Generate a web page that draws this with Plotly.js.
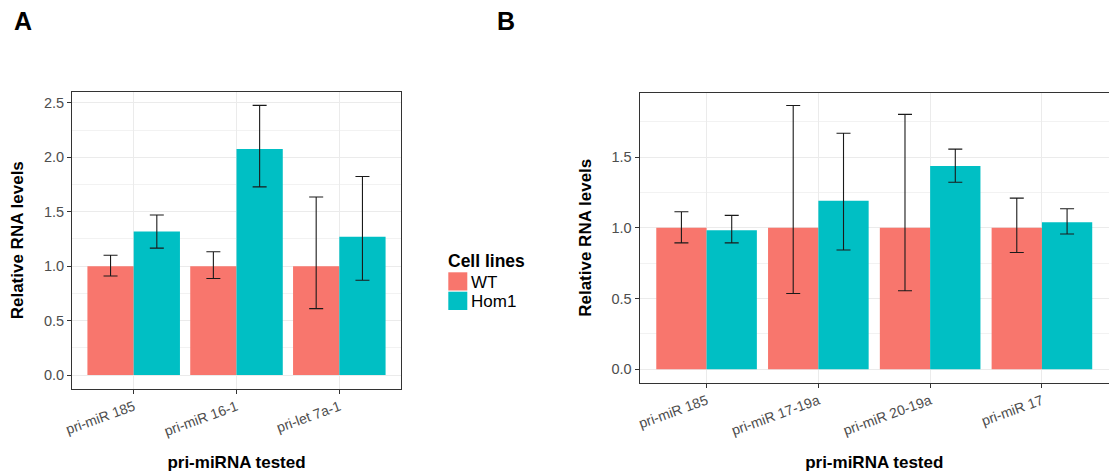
<!DOCTYPE html>
<html>
<head>
<meta charset="utf-8">
<script src="https://cdn.plot.ly/plotly-3.0.1.min.js"></script>
<style>html,body{margin:0;padding:0;background:#fff;}#chart{width:1109px;height:475px;}</style>
</head>
<body>
<div id="chart"></div>
<script>
// ---- Data ----
var categoriesA = ['pri-miR 185', 'pri-miR 16-1', 'pri-let 7a-1'];
var wtA      = [1.00, 1.00, 1.00];
var wtA_hi   = [1.100, 1.132, 1.635];
var wtA_lo   = [0.909, 0.887, 0.610];
var homA     = [1.318, 2.077, 1.270];
var homA_hi  = [1.470, 2.477, 1.824];
var homA_lo  = [1.166, 1.728, 0.871];

var categoriesB = ['pri-miR 185', 'pri-miR 17-19a', 'pri-miR 20-19a', 'pri-miR 17'];
var wtB      = [1.00, 1.00, 1.00, 1.00];
var wtB_hi   = [1.114, 1.865, 1.802, 1.210];
var wtB_lo   = [0.894, 0.536, 0.555, 0.826];
var homB     = [0.983, 1.191, 1.437, 1.039];
var homB_hi  = [1.088, 1.669, 1.556, 1.135];
var homB_lo  = [0.894, 0.843, 1.322, 0.957];

var seriesNames = ['WT', 'Hom1'];
var seriesColors = ['#F8766D', '#00BFC4'];
var legendTitle = 'Cell lines';
var xTitle = 'pri-miRNA tested';
var yTitle = 'Relative RNA levels';

// ---- helpers ----
function diff(a, b) { return a.map(function (v, i) { return v - b[i]; }); }
var FONT = 'Liberation Sans, Arial, sans-serif';

function barTrace(name, color, x, y, hi, lo, xa, ya) {
  return {
    type: 'bar', name: name, x: x, y: y, xaxis: xa, yaxis: ya,
    marker: {color: color, line: {width: 0}},
    showlegend: false,
    error_y: {type: 'data', symmetric: false, array: diff(hi, y), arrayminus: diff(y, lo),
              color: '#1a1a1a', thickness: 1.1, width: 7},
    hoverinfo: 'x+y'
  };
}

var data = [
  barTrace(seriesNames[0], seriesColors[0], categoriesA, wtA, wtA_hi, wtA_lo, 'x', 'y'),
  barTrace(seriesNames[1], seriesColors[1], categoriesA, homA, homA_hi, homA_lo, 'x', 'y'),
  barTrace(seriesNames[0], seriesColors[0], categoriesB, wtB, wtB_hi, wtB_lo, 'x2', 'y2'),
  barTrace(seriesNames[1], seriesColors[1], categoriesB, homB, homB_hi, homB_lo, 'x2', 'y2')
];

var W = 1109, H = 475;
function px(x) { return x / W; }
function py(y) { return 1 - y / H; }

function xAxis(domain, range, anchor) {
  return {
    type: 'category', domain: domain, range: range, anchor: anchor,
    showline: true, mirror: true, linecolor: '#333333', linewidth: 1,
    ticks: 'outside', ticklen: 4, tickcolor: '#333333', tickwidth: 1,
    showgrid: true, gridcolor: '#EBEBEB', gridwidth: 1,
    tickangle: -20, tickfont: {family: FONT, size: 14, color: '#4D4D4D'},
    zeroline: false, automargin: false, fixedrange: true,
    title: {text: xTitle, font: {family: FONT, size: 17, color: '#000000', weight: 'bold'}, standoff: 18}
  };
}
function yAxis(domain, range, anchor, mirror) {
  return {
    domain: domain, range: range, anchor: anchor,
    dtick: 0.5, tick0: 0, tickformat: '.1f',
    showline: true, mirror: mirror, linecolor: '#333333', linewidth: 1,
    ticks: 'outside', ticklen: 4, tickcolor: '#333333', tickwidth: 1,
    showgrid: true, gridcolor: '#EBEBEB', gridwidth: 1,
    minor: {dtick: 0.25, showgrid: true, gridcolor: '#F2F2F2', gridwidth: 1, ticks: ''},
    tickfont: {family: FONT, size: 14.5, color: '#4D4D4D'},
    zeroline: false, automargin: false, fixedrange: true,
    title: {text: yTitle, font: {family: FONT, size: 17, color: '#000000', weight: 'bold'}, standoff: 15}
  };
}

var layout = {
  width: W, height: H,
  margin: {l: 0, r: 0, t: 0, b: 0, pad: 0},
  paper_bgcolor: '#FFFFFF', plot_bgcolor: '#FFFFFF',
  barmode: 'group', bargap: 0.1, bargroupgap: 0,
  showlegend: false,
  font: {family: FONT},
  xaxis: xAxis([px(72), px(401)], [-0.6, 2.6], 'y'),
  yaxis: yAxis([py(388.5), py(92)], [-0.124, 2.6], 'x', true),
  xaxis2: xAxis([px(639.5), 1], [-0.6, 3.6], 'y2'),
  yaxis2: yAxis([py(382.5), py(93)], [-0.093, 1.953], 'x2', false),
  shapes: [
    {type: 'rect', xref: 'paper', yref: 'paper', x0: px(448.3), x1: px(467.3), y0: py(290.5), y1: py(272.3),
     fillcolor: seriesColors[0], line: {width: 0}},
    {type: 'rect', xref: 'paper', yref: 'paper', x0: px(448.3), x1: px(467.3), y0: py(310), y1: py(291.7),
     fillcolor: seriesColors[1], line: {width: 0}}
  ],
  annotations: [
    {text: 'A', xref: 'paper', yref: 'paper', x: px(22.5), y: py(21), xanchor: 'center', yanchor: 'middle',
     showarrow: false, font: {family: FONT, size: 25, color: '#000', weight: 'bold'}},
    {text: 'B', xref: 'paper', yref: 'paper', x: px(506), y: py(21), xanchor: 'center', yanchor: 'middle',
     showarrow: false, font: {family: FONT, size: 25, color: '#000', weight: 'bold'}},
    {text: legendTitle, xref: 'paper', yref: 'paper', x: px(446), y: py(260.5), xanchor: 'left', yanchor: 'middle',
     showarrow: false, font: {family: FONT, size: 17.5, color: '#000', weight: 'bold'}},
    {text: seriesNames[0], xref: 'paper', yref: 'paper', x: px(469), y: py(282), xanchor: 'left', yanchor: 'middle',
     showarrow: false, font: {family: FONT, size: 17, color: '#000'}},
    {text: seriesNames[1], xref: 'paper', yref: 'paper', x: px(469), y: py(301), xanchor: 'left', yanchor: 'middle',
     showarrow: false, font: {family: FONT, size: 17, color: '#000'}}
  ]
};

Plotly.newPlot('chart', data, layout, {displayModeBar: false, staticPlot: true});
</script>
</body>
</html>
